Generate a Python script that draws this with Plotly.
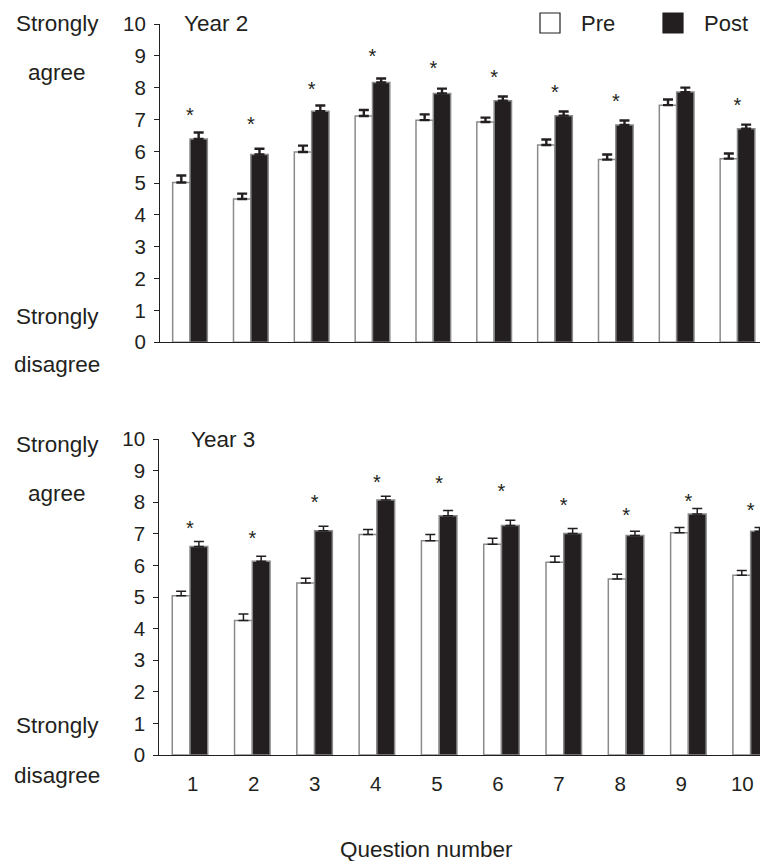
import plotly.graph_objects as go

questions = [1, 2, 3, 4, 5, 6, 7, 8, 9, 10]
tick_labels = ["1", "2", "3", "4", "5", "6", "7", "8", "9", "10"]

# Year 2
y2_pre = [5.02, 4.50, 5.98, 7.11, 6.98, 6.92, 6.20, 5.74, 7.45, 5.77]
y2_pre_err = [0.22, 0.17, 0.20, 0.19, 0.18, 0.14, 0.17, 0.16, 0.18, 0.16]
y2_post = [6.39, 5.90, 7.26, 8.16, 7.82, 7.59, 7.12, 6.83, 7.86, 6.71]
y2_post_err = [0.20, 0.18, 0.18, 0.13, 0.15, 0.13, 0.13, 0.14, 0.14, 0.13]
y2_star = [7.20, 6.90, 8.02, 9.06, 8.67, 8.40, 7.93, 7.64, None, 7.52]

# Year 3
y3_pre = [5.04, 4.26, 5.44, 6.98, 6.78, 6.67, 6.10, 5.57, 7.03, 5.69]
y3_pre_err = [0.14, 0.20, 0.15, 0.16, 0.20, 0.19, 0.19, 0.15, 0.17, 0.15]
y3_post = [6.60, 6.13, 7.10, 8.07, 7.57, 7.26, 7.01, 6.95, 7.63, 7.08]
y3_post_err = [0.16, 0.16, 0.14, 0.12, 0.17, 0.17, 0.16, 0.13, 0.17, 0.12]
y3_star = [7.25, 6.92, 8.07, 8.69, 8.68, 8.41, 7.96, 7.64, 8.10, 7.81]

INK = "#231f20"
EDGE = "#8a8a8a"
FONT = "Liberation Sans, Arial, sans-serif"
STAR_DROP = 0.12  # the asterisk glyph sits high in its line box

W = 760.0
H = 861.0


def px(x):
    return x / W


def py(y):
    return (H - y) / H


fig = go.Figure()


def add_panel(pre, pre_err, post, post_err, star, xa, ya, thick):
    fig.add_trace(go.Bar(
        x=questions, y=pre, name="Pre", xaxis=xa, yaxis=ya, showlegend=False,
        marker=dict(color="white", line=dict(color=EDGE, width=1.5)),
        error_y=dict(type="data", array=pre_err, arrayminus=[0] * len(pre),
                     symmetric=False, color=INK, thickness=thick, width=5),
    ))
    fig.add_trace(go.Bar(
        x=questions, y=post, name="Post", xaxis=xa, yaxis=ya, showlegend=False,
        marker=dict(color=INK, line=dict(color=EDGE, width=1.5)),
        error_y=dict(type="data", array=post_err, arrayminus=[0] * len(post),
                     symmetric=False, color=INK, thickness=thick, width=5),
    ))
    fig.add_trace(go.Scatter(
        x=questions,
        y=[s - STAR_DROP if s is not None else None for s in star],
        mode="text",
        text=["*" if s is not None else "" for s in star],
        textposition="middle center", xaxis=xa, yaxis=ya, showlegend=False,
        textfont=dict(size=20, color=INK, family=FONT),
        hoverinfo="skip",
    ))


add_panel(y2_pre, y2_pre_err, y2_post, y2_post_err, y2_star, "x", "y", 2.4)
add_panel(y3_pre, y3_pre_err, y3_post, y3_post_err, y3_star, "x2", "y2", 1.5)

axis_common = dict(showgrid=False, zeroline=False, showline=True,
                   linecolor=INK, linewidth=1.2, mirror=False)
ytick = dict(tickvals=list(range(0, 11)), ticks="outside", ticklen=5,
             tickwidth=1.2, tickcolor=INK, tickfont=dict(size=20.5),
             ticklabelstandoff=4)

fig.update_layout(
    width=int(W), height=int(H),
    margin=dict(l=0, r=0, t=0, b=0, autoexpand=False),
    paper_bgcolor="white", plot_bgcolor="white",
    barmode="group", bargap=0.43, bargroupgap=0.0,
    font=dict(family=FONT, color=INK, size=20),
    xaxis=dict(domain=[px(160), 1.0], range=[0.507, 10.37], anchor="y",
               tickvals=questions, showticklabels=False, ticks="",
               **axis_common),
    yaxis=dict(domain=[py(342.3), py(24)], range=[0, 10], anchor="x",
               **ytick, **axis_common),
    xaxis2=dict(domain=[px(159.3), 1.0], range=[0.507, 10.15], anchor="y2",
                tickvals=questions, showticklabels=False, ticks="",
                **axis_common),
    yaxis2=dict(domain=[py(755), py(439)], range=[0, 10], anchor="x2",
                **ytick, **axis_common),
    # tick labels of the lower panel sit on a slightly narrower spacing
    xaxis3=dict(domain=[px(159.3), 1.0], range=[0.455, 10.29], anchor="y2",
                overlaying="x2", side="bottom", showline=False, showgrid=False,
                zeroline=False, tickvals=questions, ticktext=tick_labels,
                ticks="", tickfont=dict(size=20.5), ticklabelstandoff=14),
)

# invisible trace so the label axis is drawn
fig.add_trace(go.Scatter(x=[questions[0]], y=[None], xaxis="x3", yaxis="y2",
                         mode="markers", showlegend=False, hoverinfo="skip"))

ann = []


def txt(x, y, s, size=22.5, xanchor="center"):
    ann.append(dict(x=px(x), y=py(y), xref="paper", yref="paper", text=s,
                    showarrow=False, xanchor=xanchor, yanchor="middle",
                    font=dict(size=size, color=INK, family=FONT)))


txt(57, 23, "Strongly")
txt(57, 73, "agree")
txt(57, 316, "Strongly")
txt(57, 365, "disagree")
txt(57, 444, "Strongly")
txt(57, 494, "agree")
txt(57, 725, "Strongly")
txt(57, 775, "disagree")
txt(182, 24, "Year 2", xanchor="left")
txt(189, 439, "Year 3", xanchor="left")
txt(426, 849, "Question number")
txt(579, 24, "Pre", size=22, xanchor="left")
txt(702, 24, "Post", size=22, xanchor="left")

fig.update_layout(annotations=ann)

shapes = [
    dict(type="rect", xref="paper", yref="paper",
         x0=px(540), x1=px(560), y0=py(33), y1=py(13),
         fillcolor="white", line=dict(color=INK, width=1.2)),
    dict(type="rect", xref="paper", yref="paper",
         x0=px(663), x1=px(683), y0=py(33), y1=py(13),
         fillcolor=INK, line=dict(color=INK, width=1.2)),
]
fig.update_layout(shapes=shapes)

fig.write_html(
    "out.html",
    config={"displayModeBar": False},
    post_script="document.body.style.margin='0';"
                "document.body.style.overflow='hidden';"
                "document.documentElement.style.overflow='hidden';",
)
